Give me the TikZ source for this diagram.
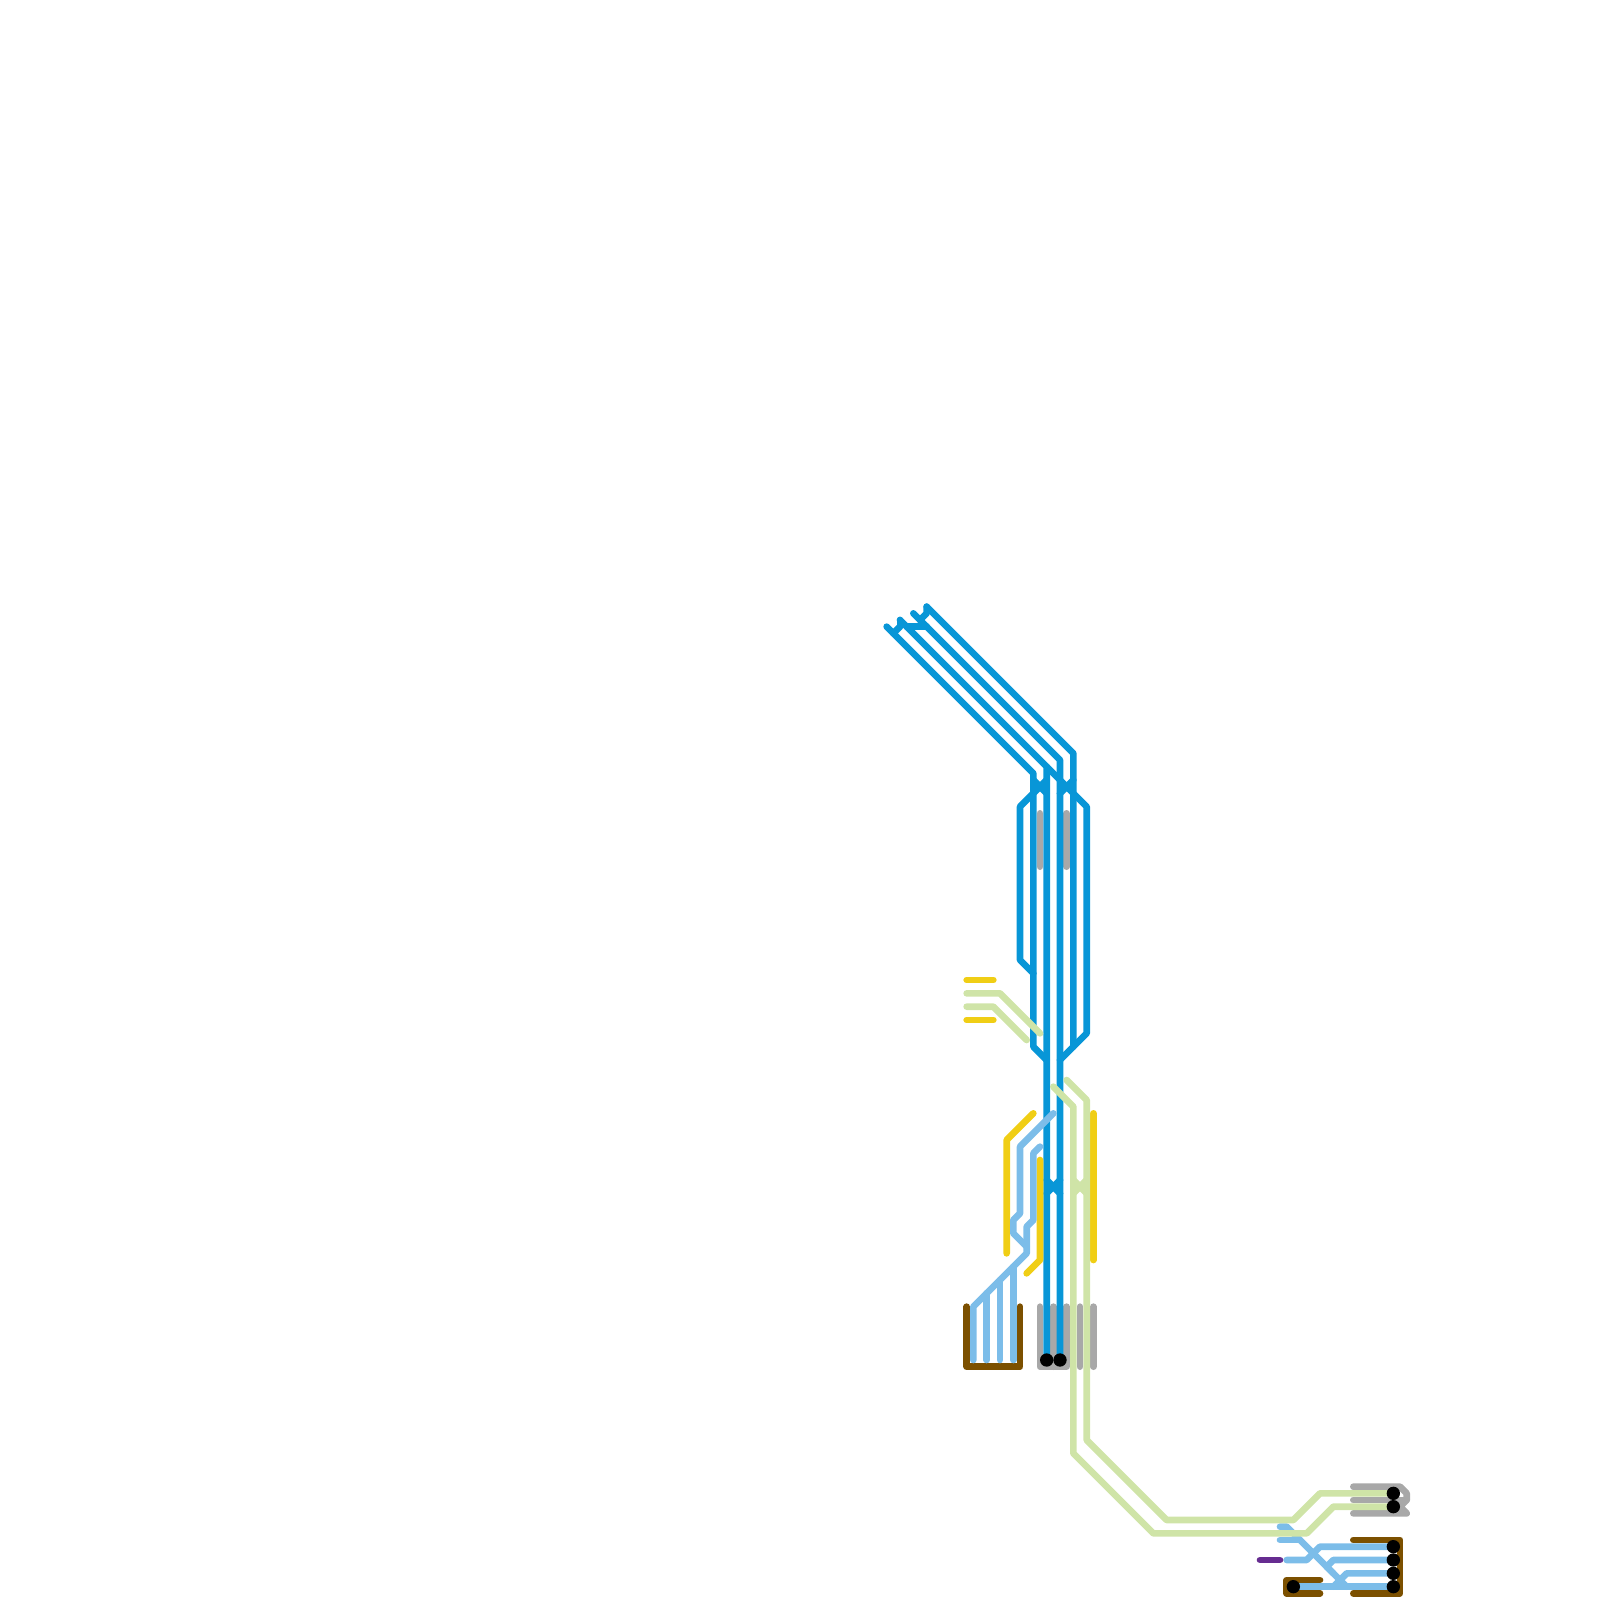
\documentclass[tikz,border=0pt]{standalone}
\definecolor{mblue}{HTML}{0896D7}
\definecolor{mlight}{HTML}{7CBDE9}
\definecolor{mgreen}{HTML}{CFE4A7}
\definecolor{myellow}{HTML}{F0CE15}
\definecolor{mbrown}{HTML}{7C5000}
\definecolor{mgray}{HTML}{A8A8A8}
\definecolor{mpurple}{HTML}{662C90}
\tikzset{
  route/.style={line width=0.16667cm,line cap=round,line join=round},
  bluer/.style={route,draw=mblue},
  lightr/.style={route,draw=mlight},
  greenr/.style={route,draw=mgreen},
  yellowr/.style={route,draw=myellow},
  brownr/.style={route,draw=mbrown},
  grayr/.style={route,draw=mgray},
  purpler/.style={route,draw=mpurple},
  stopdot/.style={fill=black,draw=none}
}
\begin{document}
\begin{tikzpicture}[x=0.16667cm,y=-0.16667cm]
\useasboundingbox (0,0) rectangle (240,240);
% grey
\draw[grayr] (156,122)--(156,130);
\draw[grayr] (160,122)--(160,130);
\draw[grayr] (156,196)--(156,205)--(160,205)--(160,196);
\draw[grayr] (158,196)--(158,205);
\draw[grayr] (162,196)--(162,205);
\draw[grayr] (164,196)--(164,205);
\draw[grayr] (203,223)--(210,223)--(211,224)--(211,225)--(210,226)--(211,227)--(203,227);
\draw[grayr] (203,225)--(211,225);
% brown
\draw[brownr] (145,196)--(145,205)--(153,205)--(153,196);
\draw[brownr] (203,231)--(210,231)--(210,239)--(203,239);
\draw[brownr] (198,237)--(193,237)--(193,239)--(198,239);
% blue
\draw[bluer] (133,94)--(155,116)--(155,157)--(157,159);
\draw[bluer] (135,94)--(134,95);
\draw[bluer] (135,93)--(135,94);
\draw[bluer] (135,93)--(157,115)--(157,204);
\draw[bluer] (137,92)--(159,114)--(159,204);
\draw[bluer] (139,91)--(161,113)--(161,157);
\draw[bluer] (139,91)--(139,92)--(138,93);
\draw[bluer] (136,94)--(139,94);
\draw[bluer] (157,115)--(159,117);
\draw[bluer] (155,117)--(157,119);
\draw[bluer] (157,117)--(155,119)--(153,121)--(153,144)--(155,146);
\draw[bluer] (159,117)--(161,119)--(163,121)--(163,155)--(159,159);
\draw[bluer] (161,117)--(159,119);
\draw[bluer] (157,177)--(159,179);
\draw[bluer] (157,179)--(159,177);
% yellow
\draw[yellowr] (145,147)--(149,147);
\draw[yellowr] (145,153)--(149,153);
\draw[yellowr] (155,167)--(151,171)--(151,188);
\draw[yellowr] (156,174)--(156,189)--(154,191);
\draw[yellowr] (164,167)--(164,189);
% light blue
\draw[lightr] (158,167)--(153,172)--(153,182)--(152,183)--(152,185)--(154,187);
\draw[lightr] (156,172)--(155,173)--(155,183)--(154,184)--(154,188)--(146,196)--(146,204);
\draw[lightr] (148,194)--(148,204);
\draw[lightr] (150,192)--(150,204);
\draw[lightr] (152,190)--(152,204);
\draw[lightr] (192,229)--(193,229)--(202,238);
\draw[lightr] (192,231)--(195,231);
\draw[lightr] (209,232)--(198,232)--(196,234)--(193,234);
\draw[lightr] (209,234)--(200,234)--(199,235);
\draw[lightr] (209,236)--(202,236)--(200,238);
\draw[lightr] (200,236)--(199,235);
\draw[lightr] (194,238)--(209,238);
% green
\draw[greenr] (145,149)--(150,149)--(156,155);
\draw[greenr] (145,151)--(149,151)--(154,156);
\draw[greenr] (160,162)--(163,165)--(163,216)--(175,228)--(194,228)--(198,224)--(209,224);
\draw[greenr] (158,163)--(161,166)--(161,218)--(173,230)--(196,230)--(200,226)--(209,226);
\draw[greenr] (161,177)--(163,179);
\draw[greenr] (161,179)--(163,177);
% purple
\draw[purpler] (189,234)--(192,234);
% stops
\fill[stopdot] (157,204) circle (1);
\fill[stopdot] (159,204) circle (1);
\fill[stopdot] (194,238) circle (1);
\fill[stopdot] (209,224) circle (1);
\fill[stopdot] (209,226) circle (1);
\fill[stopdot] (209,232) circle (1);
\fill[stopdot] (209,234) circle (1);
\fill[stopdot] (209,236) circle (1);
\fill[stopdot] (209,238) circle (1);
\end{tikzpicture}
\end{document}
